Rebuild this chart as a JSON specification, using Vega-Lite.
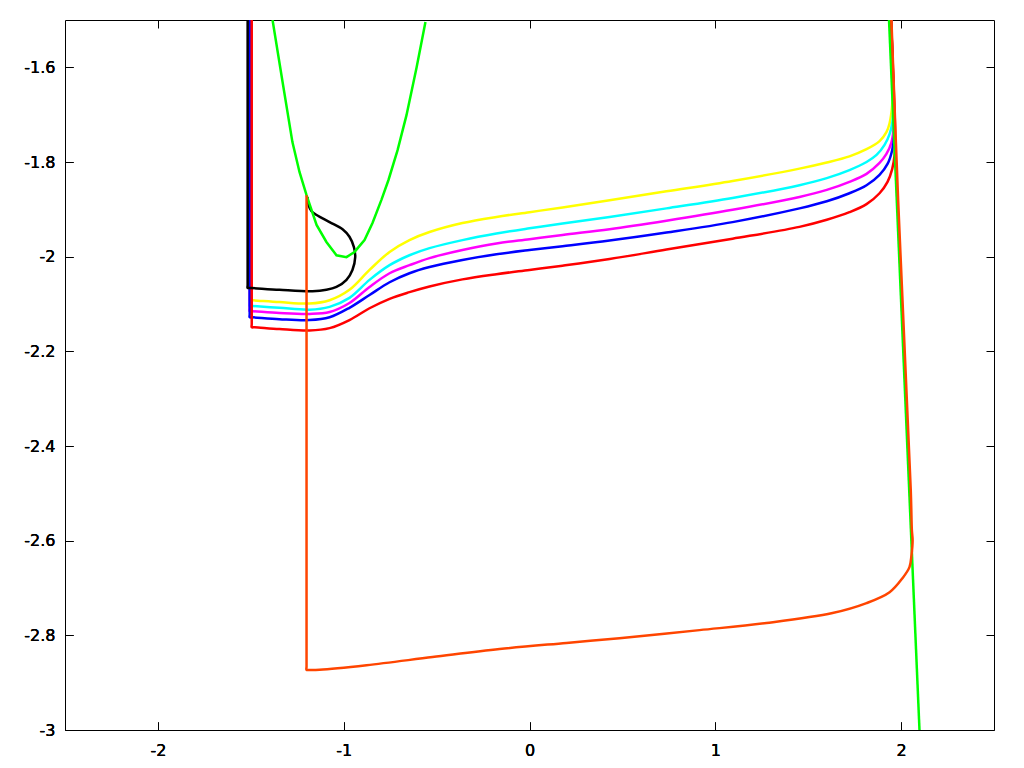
{
  "$schema": "https://vega.github.io/schema/vega-lite/v6.json",
  "width": 929,
  "height": 710,
  "autosize": "none",
  "padding": {"left": 65, "top": 20, "right": 30, "bottom": 38},
  "background": "white",
  "config": {
    "view": {"stroke": "black", "strokeWidth": 1},
    "axis": {"domain": false, "grid": false, "tickColor": "black", "tickSize": 8, "tickWidth": 1, "offset": -8, "labelFont": "DejaVu Sans", "labelFontSize": 16, "labelColor": "black", "title": null}
  },
  "data": {"values": [
    {"s":"yellow","i":1,"x":-1.506,"y":-1.5},
    {"s":"yellow","i":2,"x":-1.506,"y":-2.086},
    {"s":"yellow","i":3,"x":-1.506,"y":-2.092},
    {"s":"yellow","i":4,"x":-1.490,"y":-2.0922},
    {"s":"yellow","i":5,"x":-1.346,"y":-2.096},
    {"s":"yellow","i":6,"x":-1.184,"y":-2.099},
    {"s":"yellow","i":7,"x":-1.076,"y":-2.092},
    {"s":"yellow","i":8,"x":-0.969,"y":-2.070},
    {"s":"yellow","i":9,"x":-0.861,"y":-2.028},
    {"s":"yellow","i":10,"x":-0.753,"y":-1.990},
    {"s":"yellow","i":11,"x":-0.646,"y":-1.965},
    {"s":"yellow","i":12,"x":-0.538,"y":-1.948},
    {"s":"yellow","i":13,"x":-0.361,"y":-1.929},
    {"s":"yellow","i":14,"x":-0.178,"y":-1.916},
    {"s":"yellow","i":15,"x":0.0,"y":-1.906},
    {"s":"yellow","i":16,"x":0.178,"y":-1.896},
    {"s":"yellow","i":17,"x":0.431,"y":-1.881},
    {"s":"yellow","i":18,"x":0.737,"y":-1.862},
    {"s":"yellow","i":19,"x":1.093,"y":-1.840},
    {"s":"yellow","i":20,"x":1.453,"y":-1.814},
    {"s":"yellow","i":21,"x":1.600,"y":-1.801},
    {"s":"yellow","i":22,"x":1.722,"y":-1.788},
    {"s":"yellow","i":23,"x":1.814,"y":-1.773},
    {"s":"yellow","i":24,"x":1.884,"y":-1.756},
    {"s":"yellow","i":25,"x":1.921,"y":-1.737},
    {"s":"yellow","i":26,"x":1.938,"y":-1.718},
    {"s":"yellow","i":27,"x":1.952,"y":-1.680},
    {"s":"yellow","i":28,"x":1.955,"y":-1.620},
    {"s":"yellow","i":29,"x":1.946,"y":-1.5},

    {"s":"cyan","i":1,"x":-1.506,"y":-1.5},
    {"s":"cyan","i":2,"x":-1.506,"y":-2.098},
    {"s":"cyan","i":3,"x":-1.506,"y":-2.104},
    {"s":"cyan","i":4,"x":-1.490,"y":-2.1042},
    {"s":"cyan","i":5,"x":-1.346,"y":-2.108},
    {"s":"cyan","i":6,"x":-1.184,"y":-2.112},
    {"s":"cyan","i":7,"x":-1.076,"y":-2.106},
    {"s":"cyan","i":8,"x":-0.969,"y":-2.087},
    {"s":"cyan","i":9,"x":-0.861,"y":-2.049},
    {"s":"cyan","i":10,"x":-0.753,"y":-2.018},
    {"s":"cyan","i":11,"x":-0.646,"y":-1.997},
    {"s":"cyan","i":12,"x":-0.538,"y":-1.982},
    {"s":"cyan","i":13,"x":-0.361,"y":-1.965},
    {"s":"cyan","i":14,"x":-0.178,"y":-1.951},
    {"s":"cyan","i":15,"x":0.0,"y":-1.940},
    {"s":"cyan","i":16,"x":0.178,"y":-1.930},
    {"s":"cyan","i":17,"x":0.431,"y":-1.916},
    {"s":"cyan","i":18,"x":0.737,"y":-1.898},
    {"s":"cyan","i":19,"x":1.093,"y":-1.876},
    {"s":"cyan","i":20,"x":1.453,"y":-1.849},
    {"s":"cyan","i":21,"x":1.600,"y":-1.834},
    {"s":"cyan","i":22,"x":1.722,"y":-1.817},
    {"s":"cyan","i":23,"x":1.814,"y":-1.800},
    {"s":"cyan","i":24,"x":1.868,"y":-1.785},
    {"s":"cyan","i":25,"x":1.911,"y":-1.764},
    {"s":"cyan","i":26,"x":1.938,"y":-1.741},
    {"s":"cyan","i":27,"x":1.953,"y":-1.716},
    {"s":"cyan","i":28,"x":1.958,"y":-1.670},
    {"s":"cyan","i":29,"x":1.954,"y":-1.600},
    {"s":"cyan","i":30,"x":1.946,"y":-1.5},

    {"s":"magenta","i":1,"x":-1.506,"y":-1.5},
    {"s":"magenta","i":2,"x":-1.506,"y":-2.109},
    {"s":"magenta","i":3,"x":-1.506,"y":-2.115},
    {"s":"magenta","i":4,"x":-1.490,"y":-2.1152},
    {"s":"magenta","i":5,"x":-1.346,"y":-2.119},
    {"s":"magenta","i":6,"x":-1.184,"y":-2.121},
    {"s":"magenta","i":7,"x":-1.076,"y":-2.117},
    {"s":"magenta","i":8,"x":-0.969,"y":-2.098},
    {"s":"magenta","i":9,"x":-0.861,"y":-2.064},
    {"s":"magenta","i":10,"x":-0.753,"y":-2.035},
    {"s":"magenta","i":11,"x":-0.646,"y":-2.018},
    {"s":"magenta","i":12,"x":-0.538,"y":-2.003},
    {"s":"magenta","i":13,"x":-0.361,"y":-1.986},
    {"s":"magenta","i":14,"x":-0.178,"y":-1.972},
    {"s":"magenta","i":15,"x":0.0,"y":-1.963},
    {"s":"magenta","i":16,"x":0.178,"y":-1.954},
    {"s":"magenta","i":17,"x":0.431,"y":-1.942},
    {"s":"magenta","i":18,"x":0.737,"y":-1.924},
    {"s":"magenta","i":19,"x":1.093,"y":-1.901},
    {"s":"magenta","i":20,"x":1.453,"y":-1.874},
    {"s":"magenta","i":21,"x":1.600,"y":-1.859},
    {"s":"magenta","i":22,"x":1.722,"y":-1.842},
    {"s":"magenta","i":23,"x":1.814,"y":-1.825},
    {"s":"magenta","i":24,"x":1.884,"y":-1.802},
    {"s":"magenta","i":25,"x":1.921,"y":-1.783},
    {"s":"magenta","i":26,"x":1.947,"y":-1.760},
    {"s":"magenta","i":27,"x":1.959,"y":-1.732},
    {"s":"magenta","i":28,"x":1.961,"y":-1.690},
    {"s":"magenta","i":29,"x":1.955,"y":-1.600},
    {"s":"magenta","i":30,"x":1.946,"y":-1.5},

    {"s":"blue","i":1,"x":-1.506,"y":-1.5},
    {"s":"blue","i":2,"x":-1.506,"y":-2.122},
    {"s":"blue","i":3,"x":-1.506,"y":-2.128},
    {"s":"blue","i":4,"x":-1.490,"y":-2.1282},
    {"s":"blue","i":5,"x":-1.346,"y":-2.132},
    {"s":"blue","i":6,"x":-1.184,"y":-2.134},
    {"s":"blue","i":7,"x":-1.076,"y":-2.128},
    {"s":"blue","i":8,"x":-0.969,"y":-2.108},
    {"s":"blue","i":9,"x":-0.861,"y":-2.081},
    {"s":"blue","i":10,"x":-0.753,"y":-2.054},
    {"s":"blue","i":11,"x":-0.646,"y":-2.035},
    {"s":"blue","i":12,"x":-0.538,"y":-2.022},
    {"s":"blue","i":13,"x":-0.361,"y":-2.007},
    {"s":"blue","i":14,"x":-0.178,"y":-1.995},
    {"s":"blue","i":15,"x":0.0,"y":-1.986},
    {"s":"blue","i":16,"x":0.178,"y":-1.978},
    {"s":"blue","i":17,"x":0.431,"y":-1.966},
    {"s":"blue","i":18,"x":0.737,"y":-1.949},
    {"s":"blue","i":19,"x":1.093,"y":-1.927},
    {"s":"blue","i":20,"x":1.453,"y":-1.898},
    {"s":"blue","i":21,"x":1.600,"y":-1.883},
    {"s":"blue","i":22,"x":1.722,"y":-1.866},
    {"s":"blue","i":23,"x":1.814,"y":-1.849},
    {"s":"blue","i":24,"x":1.884,"y":-1.827},
    {"s":"blue","i":25,"x":1.927,"y":-1.804},
    {"s":"blue","i":26,"x":1.952,"y":-1.775},
    {"s":"blue","i":27,"x":1.963,"y":-1.743},
    {"s":"blue","i":28,"x":1.963,"y":-1.700},
    {"s":"blue","i":29,"x":1.955,"y":-1.600},
    {"s":"blue","i":30,"x":1.946,"y":-1.5},

    {"s":"red","i":1,"x":-1.495,"y":-1.5},
    {"s":"red","i":2,"x":-1.495,"y":-2.143},
    {"s":"red","i":3,"x":-1.495,"y":-2.149},
    {"s":"red","i":4,"x":-1.479,"y":-2.1492},
    {"s":"red","i":5,"x":-1.346,"y":-2.153},
    {"s":"red","i":6,"x":-1.184,"y":-2.156},
    {"s":"red","i":7,"x":-1.076,"y":-2.151},
    {"s":"red","i":8,"x":-0.969,"y":-2.134},
    {"s":"red","i":9,"x":-0.861,"y":-2.109},
    {"s":"red","i":10,"x":-0.753,"y":-2.089},
    {"s":"red","i":11,"x":-0.646,"y":-2.075},
    {"s":"red","i":12,"x":-0.538,"y":-2.063},
    {"s":"red","i":13,"x":-0.361,"y":-2.048},
    {"s":"red","i":14,"x":-0.178,"y":-2.037},
    {"s":"red","i":15,"x":0.0,"y":-2.028},
    {"s":"red","i":16,"x":0.178,"y":-2.019},
    {"s":"red","i":17,"x":0.431,"y":-2.005},
    {"s":"red","i":18,"x":0.737,"y":-1.985},
    {"s":"red","i":19,"x":1.093,"y":-1.962},
    {"s":"red","i":20,"x":1.453,"y":-1.937},
    {"s":"red","i":21,"x":1.600,"y":-1.922},
    {"s":"red","i":22,"x":1.722,"y":-1.906},
    {"s":"red","i":23,"x":1.814,"y":-1.889},
    {"s":"red","i":24,"x":1.884,"y":-1.866},
    {"s":"red","i":25,"x":1.927,"y":-1.842},
    {"s":"red","i":26,"x":1.952,"y":-1.815},
    {"s":"red","i":27,"x":1.965,"y":-1.785},
    {"s":"red","i":28,"x":1.968,"y":-1.745},
    {"s":"red","i":29,"x":1.956,"y":-1.600},
    {"s":"red","i":30,"x":1.946,"y":-1.5},

    {"s":"black","i":1,"x":-1.517,"y":-1.5},
    {"s":"black","i":2,"x":-1.517,"y":-2.060},
    {"s":"black","i":3,"x":-1.517,"y":-2.066},
    {"s":"black","i":4,"x":-1.500,"y":-2.0662},
    {"s":"black","i":5,"x":-1.346,"y":-2.070},
    {"s":"black","i":6,"x":-1.168,"y":-2.073},
    {"s":"black","i":7,"x":-1.093,"y":-2.070},
    {"s":"black","i":8,"x":-1.039,"y":-2.064},
    {"s":"black","i":9,"x":-0.985,"y":-2.049},
    {"s":"black","i":10,"x":-0.953,"y":-2.028},
    {"s":"black","i":11,"x":-0.938,"y":-2.001},
    {"s":"black","i":12,"x":-0.945,"y":-1.980},
    {"s":"black","i":13,"x":-0.969,"y":-1.958},
    {"s":"black","i":14,"x":-1.006,"y":-1.942},
    {"s":"black","i":15,"x":-1.076,"y":-1.927},
    {"s":"black","i":16,"x":-1.146,"y":-1.912},
    {"s":"black","i":17,"x":-1.173,"y":-1.904},
    {"s":"black","i":18,"x":-1.189,"y":-1.891},
    {"s":"black","i":19,"x":-1.195,"y":-1.874},

    {"s":"green_a","i":1,"x":-1.383,"y":-1.5},
    {"s":"green_a","i":2,"x":-1.329,"y":-1.631},
    {"s":"green_a","i":3,"x":-1.276,"y":-1.758},
    {"s":"green_a","i":4,"x":-1.238,"y":-1.821},
    {"s":"green_a","i":5,"x":-1.200,"y":-1.870},
    {"s":"green_a","i":6,"x":-1.146,"y":-1.933},
    {"s":"green_a","i":7,"x":-1.093,"y":-1.969},
    {"s":"green_a","i":8,"x":-1.039,"y":-1.997},
    {"s":"green_a","i":9,"x":-0.985,"y":-2.001},
    {"s":"green_a","i":10,"x":-0.942,"y":-1.990},
    {"s":"green_a","i":11,"x":-0.888,"y":-1.965},
    {"s":"green_a","i":12,"x":-0.845,"y":-1.929},
    {"s":"green_a","i":13,"x":-0.797,"y":-1.880},
    {"s":"green_a","i":14,"x":-0.759,"y":-1.838},
    {"s":"green_a","i":15,"x":-0.710,"y":-1.775},
    {"s":"green_a","i":16,"x":-0.662,"y":-1.701},
    {"s":"green_a","i":17,"x":-0.608,"y":-1.601},
    {"s":"green_a","i":18,"x":-0.560,"y":-1.504},

    {"s":"green_b","i":1,"x":1.935,"y":-1.5},
    {"s":"green_b","i":2,"x":2.099,"y":-3.0},

    {"s":"orange","i":1,"x":-1.200,"y":-1.870},
    {"s":"orange","i":2,"x":-1.200,"y":-2.866},
    {"s":"orange","i":3,"x":-1.200,"y":-2.873},
    {"s":"orange","i":4,"x":-1.184,"y":-2.873},
    {"s":"orange","i":5,"x":-1.130,"y":-2.8725},
    {"s":"orange","i":6,"x":-0.877,"y":-2.863},
    {"s":"orange","i":7,"x":-0.522,"y":-2.846},
    {"s":"orange","i":8,"x":-0.161,"y":-2.829},
    {"s":"orange","i":9,"x":0.199,"y":-2.816},
    {"s":"orange","i":10,"x":0.484,"y":-2.806},
    {"s":"orange","i":11,"x":0.915,"y":-2.789},
    {"s":"orange","i":12,"x":1.276,"y":-2.774},
    {"s":"orange","i":13,"x":1.631,"y":-2.753},
    {"s":"orange","i":14,"x":1.814,"y":-2.732},
    {"s":"orange","i":15,"x":1.938,"y":-2.709},
    {"s":"orange","i":16,"x":2.008,"y":-2.679},
    {"s":"orange","i":17,"x":2.045,"y":-2.656},
    {"s":"orange","i":18,"x":2.056,"y":-2.630},
    {"s":"orange","i":19,"x":2.062,"y":-2.599},
    {"s":"orange","i":20,"x":2.058,"y":-2.578},
    {"s":"orange","i":21,"x":2.052,"y":-2.493},
    {"s":"orange","i":22,"x":1.984,"y":-1.880},
    {"s":"orange","i":23,"x":1.948,"y":-1.5}
  ]},
  "encoding": {
    "x": {"field": "x", "type": "quantitative", "scale": {"domain": [-2.5, 2.5], "nice": false, "zero": false},
          "axis": {"orient": "bottom", "values": [-2, -1, 0, 1, 2], "labelExpr": "'' + datum.value", "labelPadding": 12}},
    "y": {"field": "y", "type": "quantitative", "scale": {"domain": [-3, -1.5], "nice": false, "zero": false},
          "axis": {"orient": "left", "values": [-3, -2.8, -2.6, -2.4, -2.2, -2, -1.8, -1.6], "labelExpr": "'' + datum.value", "labelPadding": 10}},
    "color": {"field": "s", "type": "nominal",
              "scale": {"domain": ["yellow", "cyan", "magenta", "blue", "red", "black", "green_a", "green_b", "orange"],
                        "range": ["#ffff00", "#00ffff", "#ff00ff", "#0000ff", "#ff0000", "#000000", "#00ff00", "#00ff00", "#ff4500"]},
              "legend": null},
    "order": {"field": "i", "type": "quantitative"}
  },
  "layer": [
    {
      "transform": [{"filter": "indexof(['yellow','cyan','magenta','blue','red','black'], datum.s) >= 0"}],
      "mark": {"type": "line", "strokeWidth": 2.5, "clip": true, "interpolate": "catmull-rom"}
    },
    {
      "transform": [{"filter": "datum.s == 'green_a' || datum.s == 'green_b'"}],
      "mark": {"type": "line", "strokeWidth": 2.5, "clip": true, "interpolate": "linear"}
    },
    {
      "transform": [{"filter": "datum.s == 'orange'"}],
      "mark": {"type": "line", "strokeWidth": 2.5, "clip": true, "interpolate": "catmull-rom"}
    },
    {
      "mark": {"type": "point", "opacity": 0},
      "encoding": {
        "x": {"field": "x", "type": "quantitative", "axis": {"orient": "top", "values": [-2, -1, 0, 1, 2], "labels": false}},
        "y": {"field": "y", "type": "quantitative", "axis": {"orient": "right", "values": [-3, -2.8, -2.6, -2.4, -2.2, -2, -1.8, -1.6], "labels": false}},
        "color": {"value": "black"},
        "order": null
      }
    }
  ],
  "resolve": {"axis": {"x": "independent", "y": "independent"}}
}
